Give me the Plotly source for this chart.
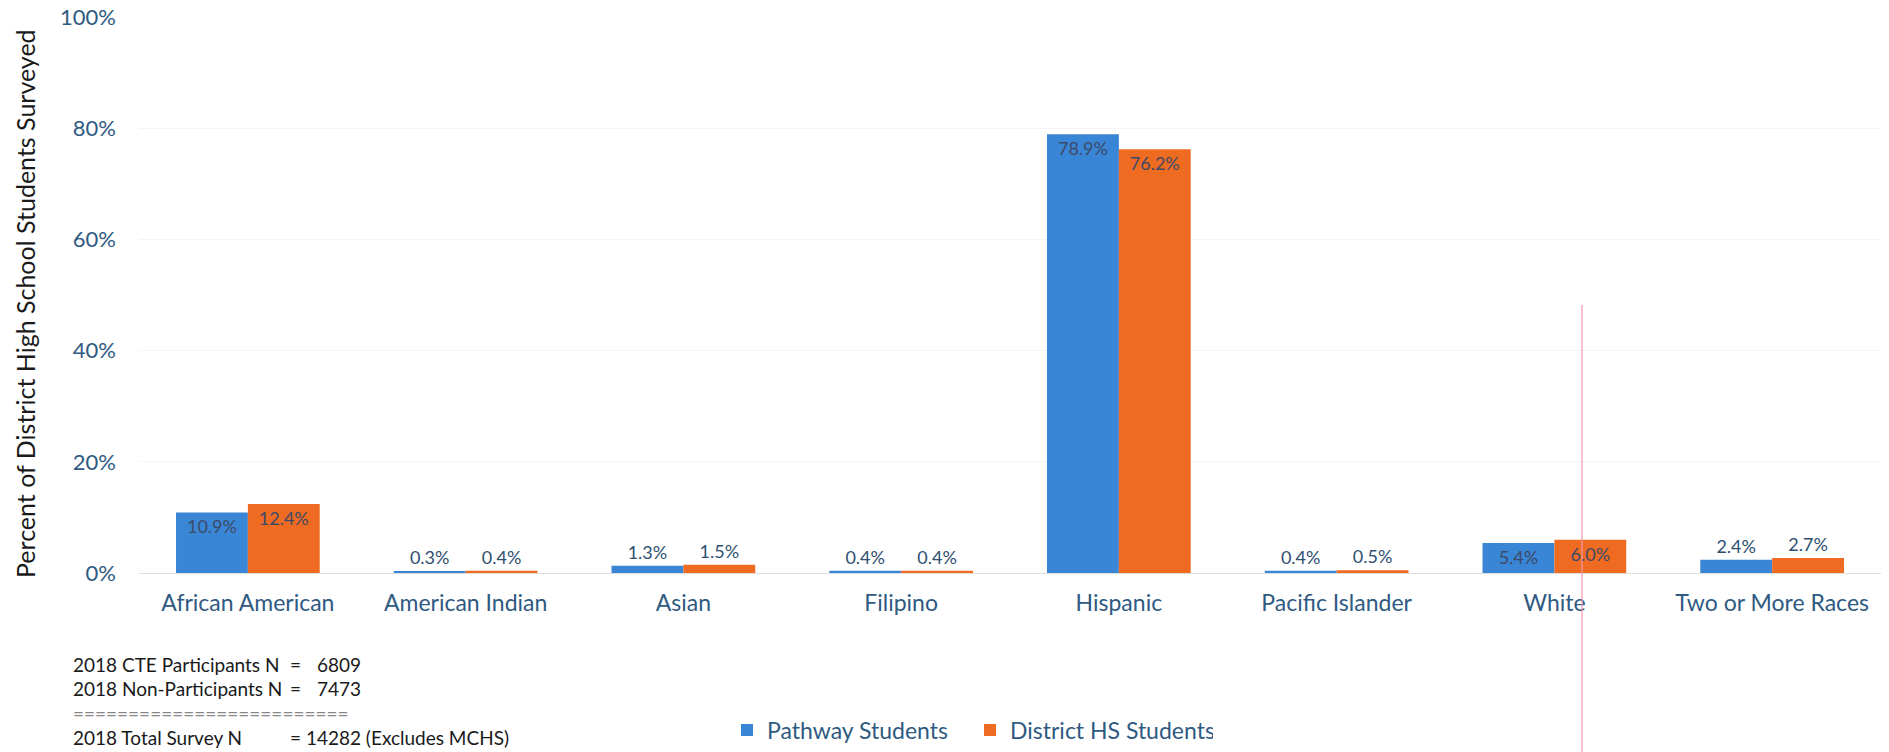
import plotly.graph_objects as go

categories = ["African American", "American Indian", "Asian", "Filipino",
              "Hispanic", "Pacific Islander", "White", "Two or More Races"]
pathway = [10.9, 0.3, 1.3, 0.4, 78.9, 0.4, 5.4, 2.4]
district = [12.4, 0.4, 1.5, 0.4, 76.2, 0.5, 6.0, 2.7]
series_names = ["Pathway Students", "District HS Students"]
y_ticks = [0, 20, 40, 60, 80, 100]
y_ticklabels = ["0%", "20%", "40%", "60%", "80%", "100%"]
note_left = ["2018 CTE Participants N", "2018 Non-Participants N",
             "=========================", "2018 Total Survey N"]
note_eq = ["=", "=", "", "= 14282 (Excludes MCHS)"]
note_num = ["6809", "7473", "", ""]

FONT = "Lato, Open Sans, sans-serif"
TXT = "#2f5a82"
BLUE = "#3a86d6"
ORANGE = "#f06b22"

OFF = 8  # page body margin offset
W, H = 1889 - OFF, 752 - OFF
# target screen coords of plot area
SL, SR, ST, SB = 139, 1881, 17, 573
L, T = SL - OFF, ST - OFF
R = W - (SR - OFF)
B = H - (SB - OFF)
PW, PH = W - L - R, H - T - B


def px_x(sx):
    return (sx - SL) / PW


def px_y(sy):
    return (SB - sy) / PH


fig = go.Figure()
for name, vals, col in [(series_names[0], pathway, BLUE), (series_names[1], district, ORANGE)]:
    fig.add_trace(go.Bar(
        name=name, x=categories, y=vals, marker=dict(color=col, line=dict(width=0)),
        text=[f"{v:.1f}%" for v in vals], textposition="auto",
        insidetextanchor="end",
        insidetextfont=dict(family=FONT, size=18, color="#3d4a66"),
        outsidetextfont=dict(family=FONT, size=18, color="#2f4f70"),
        cliponaxis=False,
    ))

fig.update_layout(
    width=W, height=H,
    margin=dict(l=L, r=R, t=T, b=B, autoexpand=False),
    paper_bgcolor="white", plot_bgcolor="white",
    barmode="group", bargap=0.34, bargroupgap=0,
    font=dict(family=FONT, color=TXT),
    legend=dict(orientation="h", x=px_x(727), xanchor="left", y=px_y(730), yanchor="middle",
                font=dict(size=23, color=TXT, family=FONT), itemwidth=30,
                entrywidth=198, entrywidthmode="pixels",
                traceorder="normal"),
    xaxis=dict(tickfont=dict(size=23, color=TXT), showline=False, ticks="",
               ticklabelstandoff=14, showgrid=False, automargin=False),
    yaxis=dict(range=[0, 100], tickvals=y_ticks, ticktext=y_ticklabels,
               tickfont=dict(size=22, color=TXT), showgrid=True, gridcolor="#f5f5f7",
               zeroline=True, zerolinecolor="#dedede", zerolinewidth=1,
               ticklabelstandoff=22, showline=False, automargin=False,
               ticklabeloverflow="allow"),
)

fig.add_annotation(text="Percent of District High School Students Surveyed",
                   xref="paper", yref="paper", x=px_x(25), y=px_y(304),
                   xanchor="center", yanchor="middle",
                   textangle=-90, showarrow=False,
                   font=dict(size=25, color="#1a1a1a", family=FONT))

ys = [664, 688, 713, 737]
for a, e, n, sy in zip(note_left, note_eq, note_num, ys):
    yp = px_y(sy)
    col = "#888888" if a.startswith("=") else "#1a1a1a"
    fig.add_annotation(text=a, xref="paper", yref="paper", x=px_x(71), y=yp,
                       xanchor="left", yanchor="middle", showarrow=False,
                       font=dict(size=19, color=col, family=FONT))
    if e:
        fig.add_annotation(text=e, xref="paper", yref="paper", x=px_x(288), y=yp,
                           xanchor="left", yanchor="middle", showarrow=False,
                           font=dict(size=19, color=col, family=FONT))
    if n:
        fig.add_annotation(text=n, xref="paper", yref="paper", x=px_x(315), y=yp,
                           xanchor="left", yanchor="middle", showarrow=False,
                           font=dict(size=19, color=col, family=FONT))

# faint scan line artifact
fig.add_shape(type="line", xref="paper", yref="paper",
              x0=px_x(1582), x1=px_x(1582), y0=px_y(305), y1=px_y(760),
              line=dict(color="rgba(240,150,170,0.6)", width=2))

fig.write_html("out.html")
